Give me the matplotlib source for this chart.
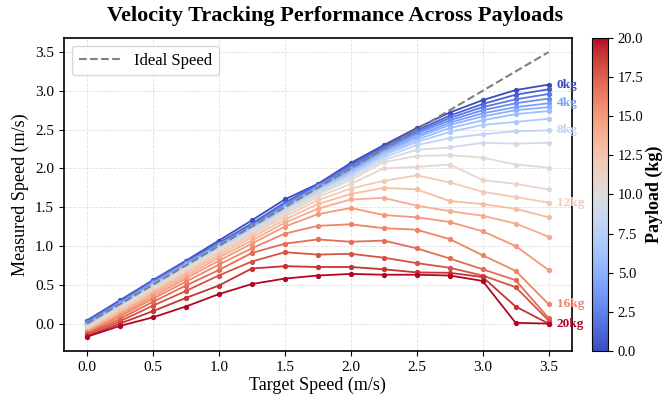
import matplotlib
matplotlib.use("Agg")
import matplotlib.pyplot as plt
import numpy as np

plt.rcParams['font.family'] = ['Liberation Serif', 'DejaVu Serif']

target_speed = [0.0, 0.25, 0.5, 0.75, 1.0, 1.25, 1.5, 1.75, 2.0, 2.25, 2.5, 2.75, 3.0, 3.25, 3.5]
payloads = list(range(21))
labelled = [0, 4, 8, 12, 16, 20]

measured = [
    [0.04, 0.30, 0.56, 0.81, 1.07, 1.33, 1.60, 1.80, 2.07, 2.30, 2.52, 2.72, 2.88, 3.01, 3.08],
    [0.03, 0.29, 0.55, 0.80, 1.04, 1.29, 1.56, 1.79, 2.05, 2.28, 2.49, 2.68, 2.83, 2.95, 3.02],
    [0.02, 0.28, 0.54, 0.79, 1.03, 1.27, 1.54, 1.78, 2.03, 2.26, 2.47, 2.65, 2.79, 2.89, 2.96],
    [0.01, 0.27, 0.53, 0.78, 1.02, 1.26, 1.52, 1.77, 2.01, 2.24, 2.45, 2.62, 2.75, 2.84, 2.90],
    [0.00, 0.26, 0.52, 0.77, 1.01, 1.25, 1.51, 1.76, 1.99, 2.22, 2.42, 2.59, 2.71, 2.79, 2.84],
    [-0.01, 0.25, 0.51, 0.76, 1.00, 1.24, 1.50, 1.75, 1.97, 2.21, 2.40, 2.56, 2.67, 2.75, 2.79],
    [-0.02, 0.24, 0.50, 0.75, 0.99, 1.23, 1.49, 1.73, 1.95, 2.19, 2.37, 2.52, 2.62, 2.70, 2.74],
    [-0.03, 0.23, 0.49, 0.74, 0.98, 1.22, 1.48, 1.72, 1.93, 2.17, 2.34, 2.47, 2.56, 2.60, 2.64],
    [-0.04, 0.22, 0.48, 0.73, 0.97, 1.21, 1.46, 1.70, 1.91, 2.14, 2.30, 2.39, 2.44, 2.48, 2.49],
    [-0.05, 0.21, 0.47, 0.72, 0.96, 1.20, 1.45, 1.68, 1.88, 2.11, 2.24, 2.27, 2.33, 2.32, 2.33],
    [-0.06, 0.20, 0.46, 0.70, 0.95, 1.18, 1.43, 1.66, 1.85, 2.08, 2.16, 2.17, 2.14, 2.05, 2.01],
    [-0.07, 0.19, 0.44, 0.68, 0.93, 1.16, 1.41, 1.63, 1.80, 2.00, 2.02, 2.05, 1.85, 1.80, 1.73],
    [-0.08, 0.17, 0.42, 0.66, 0.91, 1.14, 1.38, 1.59, 1.74, 1.84, 1.91, 1.82, 1.70, 1.63, 1.56],
    [-0.09, 0.15, 0.40, 0.64, 0.88, 1.11, 1.34, 1.54, 1.67, 1.75, 1.73, 1.58, 1.54, 1.48, 1.37],
    [-0.10, 0.13, 0.38, 0.61, 0.85, 1.07, 1.30, 1.48, 1.60, 1.62, 1.52, 1.45, 1.39, 1.29, 1.12],
    [-0.11, 0.11, 0.35, 0.58, 0.81, 1.03, 1.25, 1.41, 1.49, 1.40, 1.37, 1.31, 1.19, 1.00, 0.69],
    [-0.12, 0.09, 0.32, 0.54, 0.76, 0.97, 1.16, 1.26, 1.28, 1.23, 1.21, 1.09, 0.88, 0.68, 0.25],
    [-0.13, 0.06, 0.28, 0.49, 0.69, 0.91, 1.03, 1.085, 1.055, 1.07, 0.97, 0.84, 0.70, 0.56, 0.07],
    [-0.14, 0.03, 0.23, 0.42, 0.62, 0.80, 0.92, 0.89, 0.90, 0.85, 0.78, 0.72, 0.62, 0.47, 0.04],
    [-0.16, 0.00, 0.16, 0.33, 0.49, 0.71, 0.74, 0.73, 0.73, 0.70, 0.66, 0.655, 0.60, 0.22, 0.00],
    [-0.17, -0.03, 0.08, 0.22, 0.38, 0.51, 0.58, 0.62, 0.64, 0.63, 0.63, 0.62, 0.55, 0.01, 0.00],
]

fig = plt.figure(figsize=(6.71, 3.98), dpi=100)
ax = fig.add_axes([0.095, 0.118, 0.757, 0.787])
cax = fig.add_axes([0.882, 0.118, 0.024, 0.787])

cmap = plt.get_cmap('coolwarm')
norm = matplotlib.colors.Normalize(vmin=0, vmax=20)

for kg, vals in zip(payloads, measured):
    c = cmap(norm(kg))
    ax.plot(target_speed, vals, '-o', color=c, lw=1.3, ms=2.8, zorder=2)
    if kg in labelled:
        ax.annotate(f"{kg}kg", (target_speed[-1], vals[-1]), xytext=(6, 0),
                    textcoords='offset points', va='center', ha='left',
                    fontsize=9.5, fontweight='bold', color=c)

ax.plot([0, 3.5], [0, 3.5], '--', color='gray', lw=1.5, label='Ideal Speed', zorder=3)

ax.set_xticks(np.arange(0, 3.51, 0.5))
ax.set_yticks(np.arange(0, 3.51, 0.5))
ax.grid(True, ls='--', lw=0.6, alpha=0.4)
ax.tick_params(labelsize=11)
for s in ax.spines.values():
    s.set_linewidth(1.2)

ax.set_xlabel('Target Speed (m/s)', fontsize=13, labelpad=2)
ax.set_ylabel('Measured Speed (m/s)', fontsize=13)
fig.suptitle('Velocity Tracking Performance Across Payloads', x=0.5, y=0.985,
             fontsize=16, fontweight='bold')
ax.legend(loc='upper left', fontsize=12, handlelength=2.5)

sm = matplotlib.cm.ScalarMappable(norm=norm, cmap=cmap)
cb = fig.colorbar(sm, cax=cax)
cb.set_label('Payload (kg)', fontsize=13, fontweight='bold', labelpad=2)
cb.set_ticks(np.arange(0, 20.1, 2.5))
cb.ax.tick_params(labelsize=10.5)

fig.savefig('out.png', dpi=100)
